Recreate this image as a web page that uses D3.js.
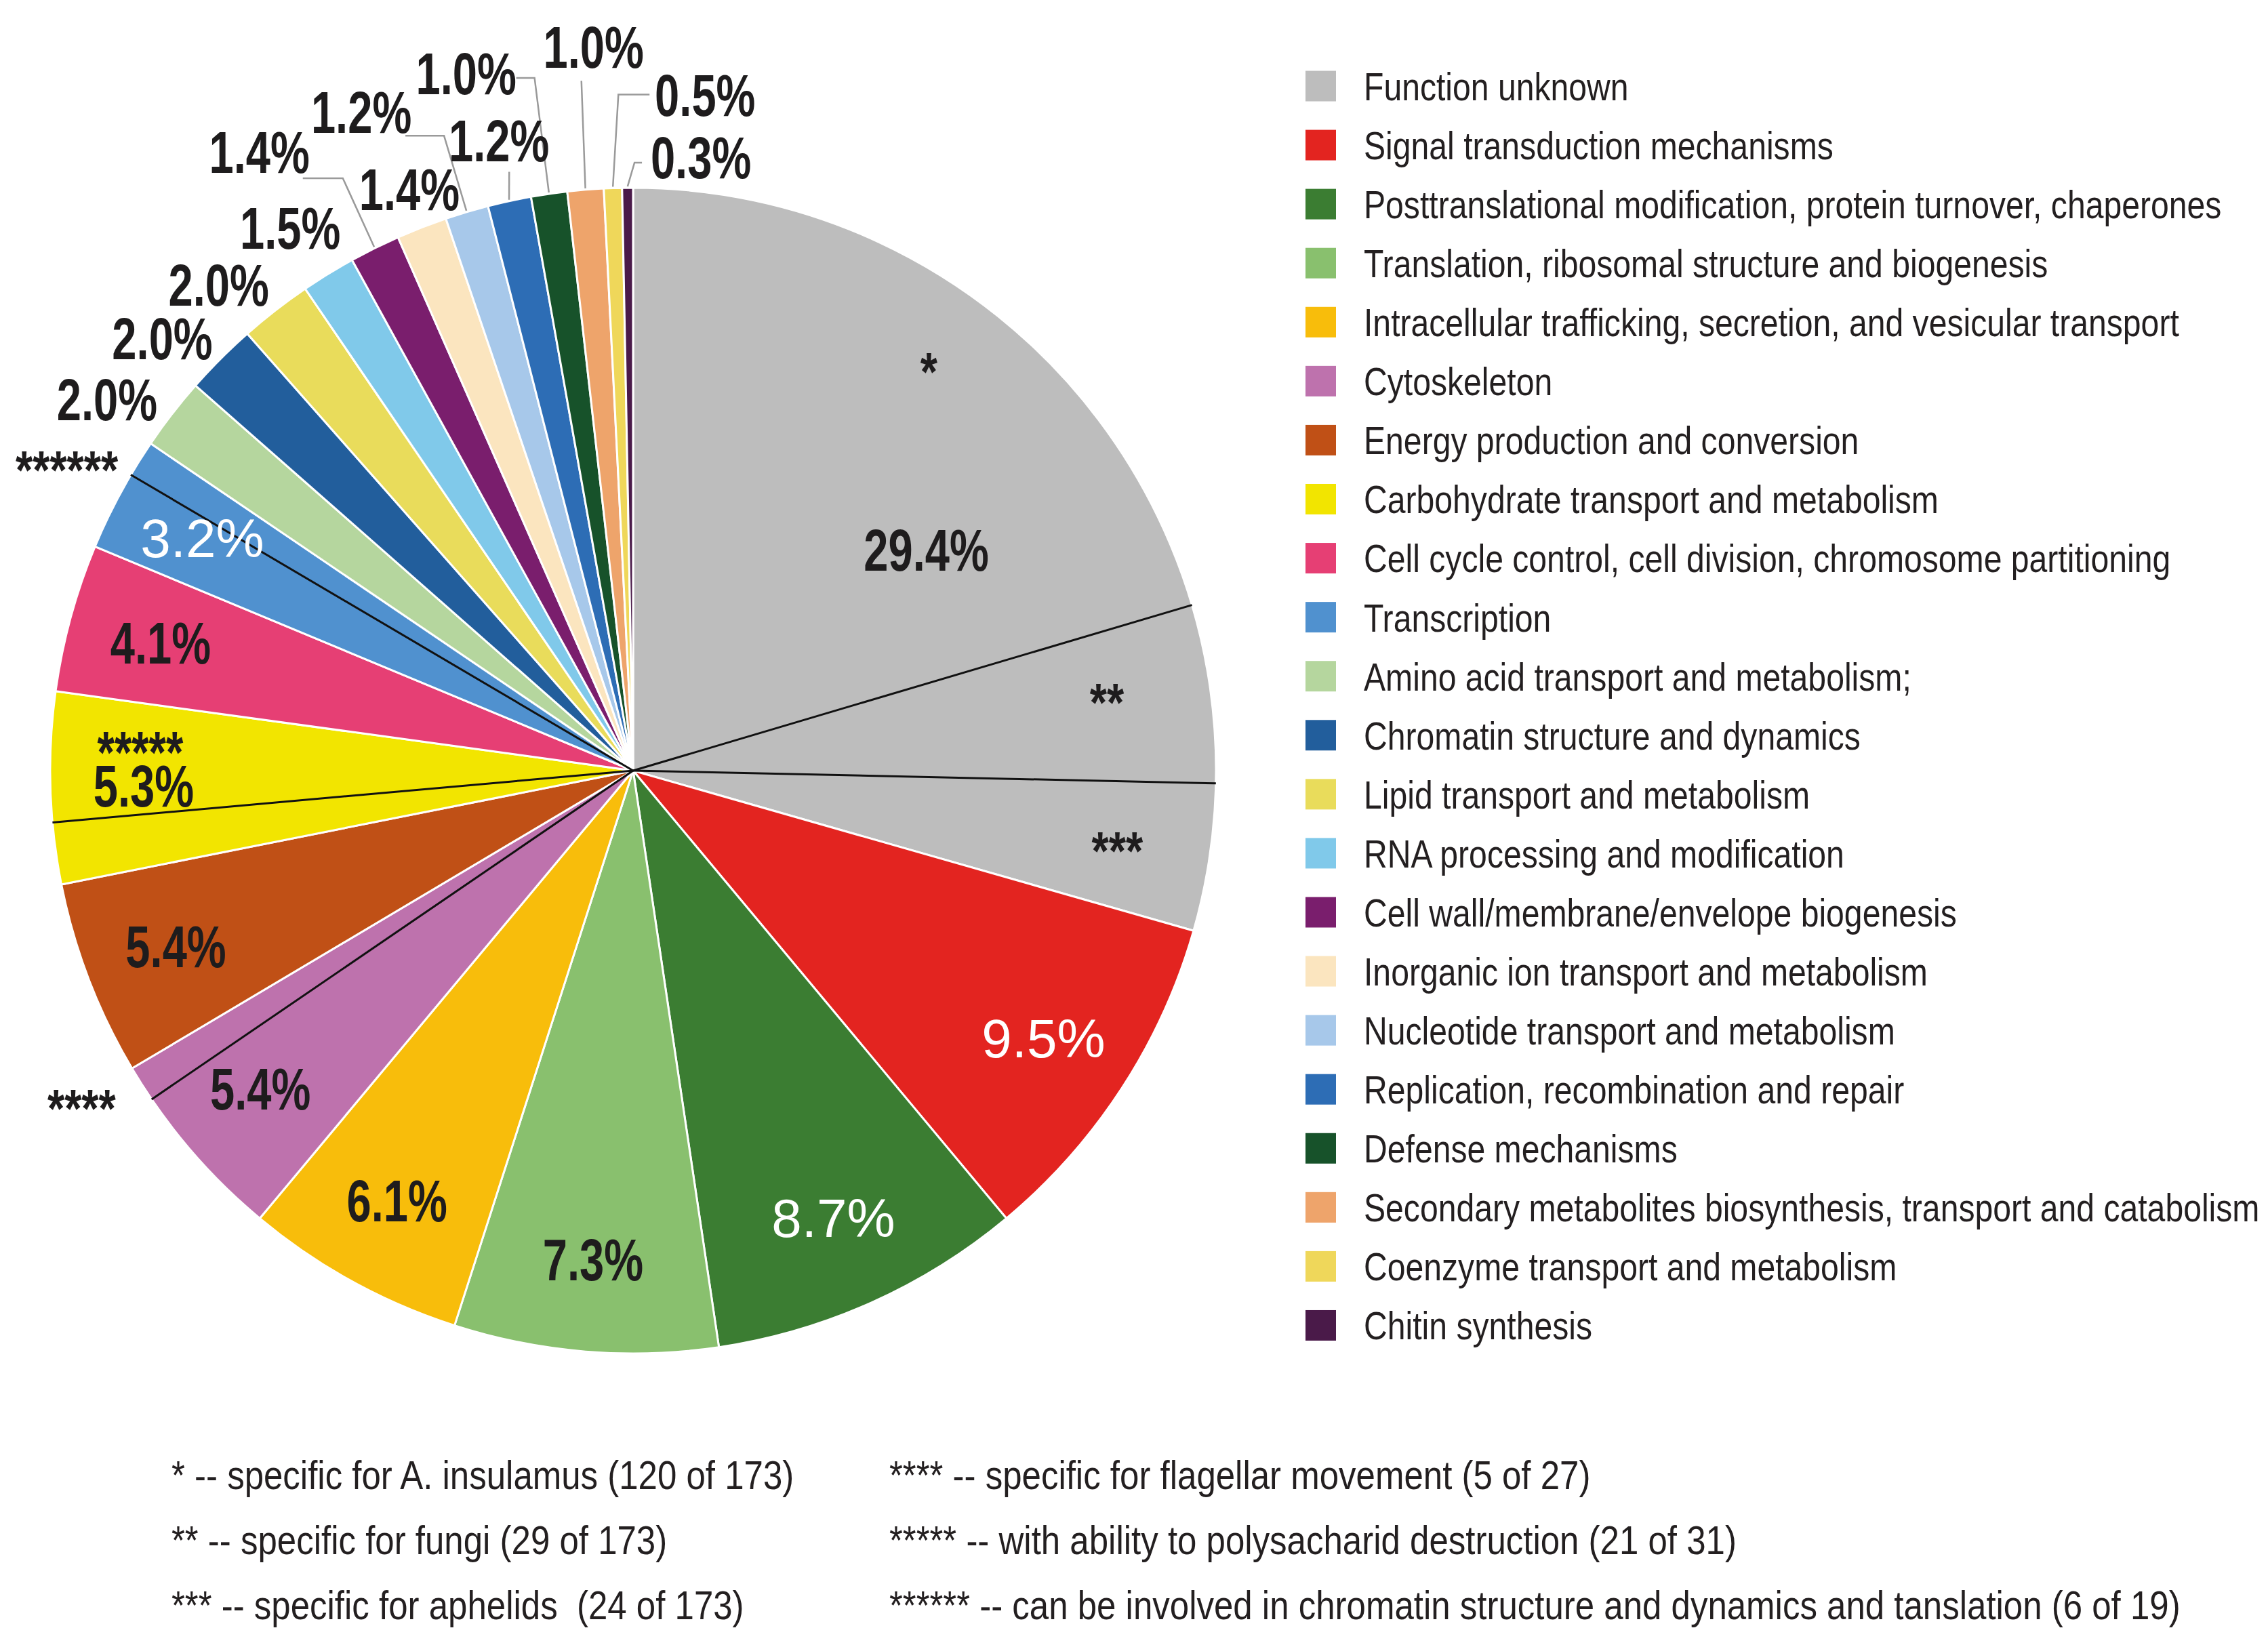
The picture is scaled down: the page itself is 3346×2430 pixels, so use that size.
<!DOCTYPE html>
<html>
<head>
<meta charset="utf-8">
<script src="https://cdn.jsdelivr.net/npm/d3@7/dist/d3.min.js"></script>
<style>
  html, body { margin: 0; padding: 0; background: #fff; }
  svg { display: block; }
  text { font-family: "Liberation Sans", Arial, Helvetica, sans-serif; }
</style>
</head>
<body>
<div id="chart"></div>
<script>
// COG categories, clockwise from 12 o'clock
const categories = [
  "Function unknown",
  "Signal transduction mechanisms",
  "Posttranslational modification, protein turnover, chaperones",
  "Translation, ribosomal structure and biogenesis",
  "Intracellular trafficking, secretion, and vesicular transport",
  "Cytoskeleton",
  "Energy production and conversion",
  "Carbohydrate transport and metabolism",
  "Cell cycle control, cell division, chromosome partitioning",
  "Transcription",
  "Amino acid transport and metabolism;",
  "Chromatin structure and dynamics",
  "Lipid transport and metabolism",
  "RNA processing and modification",
  "Cell wall/membrane/envelope biogenesis",
  "Inorganic ion transport and metabolism",
  "Nucleotide transport and metabolism",
  "Replication, recombination and repair",
  "Defense mechanisms",
  "Secondary metabolites biosynthesis, transport and catabolism",
  "Coenzyme transport and metabolism",
  "Chitin synthesis"
];
const percents = [29.4, 9.5, 8.7, 7.3, 6.1, 5.4, 5.4, 5.3, 4.1, 3.2, 2.0, 2.0, 2.0, 1.5, 1.4, 1.4, 1.2, 1.2, 1.0, 1.0, 0.5, 0.3];
const palette = [
  "#bdbdbd", "#e32420", "#3b7d32", "#89c06e", "#f8bd0b", "#be72ad", "#c05016", "#f2e500",
  "#e63f74", "#5091cf", "#b5d69e", "#225e9c", "#e9dc5b", "#80c9ea", "#7a1e6d", "#fbe5bf",
  "#a7c8ea", "#2d6db5", "#17522a", "#eea46b", "#efd75a", "#4a1a49"
];

// starred subsets (footnotes)
const markSymbols  = ["*", "**", "***", "****", "*****", "******"];
const markCategory = ["Function unknown", "Function unknown", "Function unknown",
                      "Cytoskeleton", "Carbohydrate transport and metabolism", "Transcription"];
const markCount = [120, 29, 24, 5, 21, 6];
const markTotal = [173, 173, 173, 27, 31, 19];
const markNotes = [
  "specific for A. insulamus",
  "specific for fungi",
  "specific for aphelids ",
  "specific for flagellar movement",
  "with ability to polysacharid destruction",
  "can be involved in chromatin structure and dynamics and tanslation"
];

// ── layout ──
const W = 3346, H = 2430;
const cx = 934, cy = 1137, R = 860;
const labelFs = 88, narrowX = 0.74; // condensed bold labels (no narrow face installed → scaleX)

const whiteLabels = new Set(["Signal transduction mechanisms",
  "Posttranslational modification, protein turnover, chaperones", "Transcription"]);
const outsideFrom = 10; // index from which labels sit outside the pie

// hand nudges for outside labels [dx, dy] and leader points relative to the label
const outsideTweak = {
  "Amino acid transport and metabolism;": { nudge: [-28, 30] },
  "Chromatin structure and dynamics": { nudge: [-25, 30] },
  "Lipid transport and metabolism": { nudge: [-31, 29] },
  "RNA processing and modification": { nudge: [-11, 5] },
  "Cell wall/membrane/envelope biogenesis": { nudge: [-132, -66], leader: [[64, 40], [123, 40]] },
  "Inorganic ion transport and metabolism": { nudge: [13, 23] },
  "Nucleotide transport and metabolism": { nudge: [-131, -66], leader: [[65, 36], [122, 36]] },
  "Replication, recombination and repair": { nudge: [3, -6], leader: [[15, 47]] },
  "Defense mechanisms": { nudge: [-110, -94], leader: [[74, 8], [101, 8]] },
  "Secondary metabolites biosynthesis, transport and catabolism": { nudge: [19, -126], leader: [[-18, 51]] },
  "Coenzyme transport and metabolism": { nudge: [139, -52], leader: [[-82, 0], [-128, 0]] },
  "Chitin synthesis": { nudge: [109, 40], leader: [[-87, 9], [-98, 9]] }
};
const markPlace = {
  "*": { r: 0.86, nudge: [-6, -15] }, "**": { r: 0.82, nudge: [0, -26] }, "***": { r: 0.84, nudge: [0, -8] },
  "****": { r: 1.1, nudge: [-16, -29] },
  "*****": { above: true },            // stacked on top of the slice's % label
  "******": { r: 1.1, nudge: [-36, 43] }
};

const svg = d3.select("#chart").append("svg")
  .attr("width", W).attr("height", H)
  .attr("viewBox", [0, 0, W, H]);

const g = svg.append("g").attr("transform", `translate(${cx},${cy})`);

const slices = categories.map((c, i) => ({ name: c, value: percents[i], color: palette[i] }));
const pie = d3.pie().sort(null).value(d => d.value);
const arcs = pie(slices);
const arc = d3.arc().innerRadius(0).outerRadius(R);

const polar = (a, r) => [r * Math.sin(a), -r * Math.cos(a)];

// ── slices ──
g.append("g")
  .selectAll("path")
  .data(arcs)
  .join("path")
  .attr("d", arc)
  .attr("fill", d => d.data.color)
  .attr("stroke", "#fff")
  .attr("stroke-width", 3)
  .attr("stroke-linejoin", "round");

// ── subsets inside slices: laid out so they end at the slice end ──
const subsets = markSymbols.map((s, i) => ({
  sym: s, cat: markCategory[i], count: markCount[i], total: markTotal[i]
}));
const byCat = d3.group(subsets, d => d.cat);
byCat.forEach((list, cat) => {
  const a = arcs.find(d => d.data.name === cat);
  const unit = (a.endAngle - a.startAngle) / list[0].total;
  let cur = a.endAngle - d3.sum(list, d => d.count) * unit;
  list.forEach(d => {
    d.start = cur;
    d.end = cur + d.count * unit;
    d.mid = (d.start + d.end) / 2;
    d.slice = a;
    cur = d.end;
  });
});

g.append("g")
  .selectAll("line")
  .data(subsets.filter(d => d.start - d.slice.startAngle > 1e-3))
  .join("line")
  .attr("x1", 0).attr("y1", 0)
  .attr("x2", d => polar(d.start, R)[0])
  .attr("y2", d => polar(d.start, R)[1])
  .attr("stroke", "#111")
  .attr("stroke-width", 3);

// ── percentage labels ──
const labelPos = new Map();
arcs.forEach((d, i) => {
  const mid = (d.startAngle + d.endAngle) / 2;
  let p;
  if (i === 0) p = polar(mid, 0.63 * R);
  else if (i < outsideFrom) p = polar(mid, 0.84 * R);
  else {
    const t = outsideTweak[d.data.name] || { nudge: [0, 0] };
    p = polar(mid, 1.1 * R);
    p = [p[0] + t.nudge[0], p[1] + t.nudge[1]];
  }
  labelPos.set(d.data.name, p);
});

// leader lines
const leaderData = arcs.filter(d => outsideTweak[d.data.name] && outsideTweak[d.data.name].leader);
g.append("g")
  .selectAll("polyline")
  .data(leaderData)
  .join("polyline")
  .attr("points", d => {
    const [lx, ly] = labelPos.get(d.data.name);
    const pts = outsideTweak[d.data.name].leader.map(q => [lx + q[0], ly + q[1]]);
    pts.push(polar((d.startAngle + d.endAngle) / 2, R + 2));
    return pts.map(q => q.join(",")).join(" ");
  })
  .attr("fill", "none")
  .attr("stroke", "#9a9a9a")
  .attr("stroke-width", 2.5);

const stacked = subsets.filter(s => markPlace[s.sym].above);

const labels = g.append("g")
  .selectAll("text")
  .data(arcs)
  .join("text")
  .attr("transform", d => {
    const [x, y] = labelPos.get(d.data.name);
    return whiteLabels.has(d.data.name)
      ? `translate(${x},${y})`
      : `translate(${x},${y}) scale(${narrowX},1)`;
  })
  .attr("text-anchor", "middle")
  .style("font-size", d => whiteLabels.has(d.data.name) ? "80px" : `${labelFs}px`)
  .style("font-weight", d => whiteLabels.has(d.data.name) ? "400" : "700")
  .style("fill", d => whiteLabels.has(d.data.name) ? "#fff" : "#1e1c1d");

labels.each(function(d) {
  const t = d3.select(this);
  const mark = stacked.find(s => s.cat === d.data.name);
  if (mark) {
    t.append("tspan")
      .attr("x", -5 / narrowX)
      .attr("y", -70 + 0.58 * labelFs)
      .text(mark.sym);
  }
  t.append("tspan")
    .attr("x", 0)
    .attr("y", 0)
    .attr("dy", "0.36em")
    .text(`${d.data.value.toFixed(1)}%`);
});

// ── star marks (others) ──
g.append("g")
  .selectAll("text")
  .data(subsets.filter(s => !markPlace[s.sym].above))
  .join("text")
  .attr("transform", d => {
    const m = markPlace[d.sym];
    let p = polar(d.mid, m.r * R);
    if (m.nudge) p = [p[0] + m.nudge[0], p[1] + m.nudge[1]];
    return `translate(${p[0]},${p[1]}) scale(0.81,1)`;
  })
  .attr("dy", "0.58em")
  .attr("text-anchor", "middle")
  .style("font-size", "80px")
  .style("font-weight", "700")
  .style("fill", "#1e1c1d")
  .text(d => d.sym);

// ── legend ──
const legendX = 1926, legendY = 127, legendStep = 87.07, box = 45;
const legend = svg.append("g");
const row = legend.selectAll("g")
  .data(slices)
  .join("g")
  .attr("transform", (d, i) => `translate(${legendX},${legendY + i * legendStep})`);
row.append("rect")
  .attr("x", 0).attr("y", -box / 2)
  .attr("width", box).attr("height", box)
  .attr("fill", d => d.color);
row.append("text")
  .attr("transform", "translate(86,0) scale(0.83,1)")
  .attr("dy", "0.36em")
  .style("font-size", "58px")
  .style("fill", "#231f20")
  .text(d => d.name);

// ── footnotes ──
const noteCols = [253, 1312], noteRows = [2197, 2293, 2389];
svg.append("g")
  .selectAll("text")
  .data(subsets)
  .join("text")
  .attr("transform", (d, i) =>
    `translate(${noteCols[Math.floor(i / 3)]},${noteRows[i % 3]}) scale(0.85,1)`)
  .attr("xml:space", "preserve")
  .style("white-space", "pre")
  .style("font-size", "60px")
  .style("fill", "#231f20")
  .text((d, i) => `${d.sym} -- ${markNotes[i]} (${d.count} of ${d.total})`);
</script>
</body>
</html>
